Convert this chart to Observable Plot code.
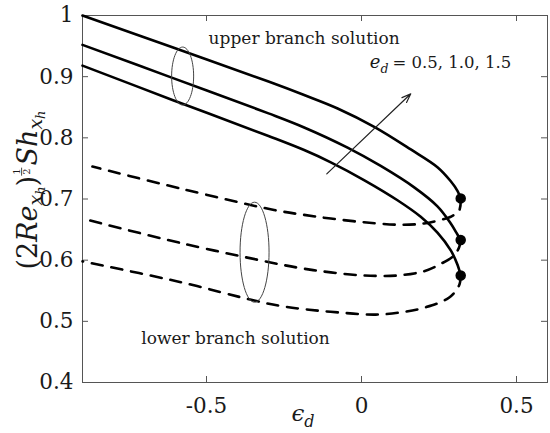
<!DOCTYPE html>
<html>
<head>
<meta charset="utf-8">
<script src="https://cdn.jsdelivr.net/npm/d3@7"></script>
<script src="https://cdn.jsdelivr.net/npm/@observablehq/plot@0.6"></script>
<style>
  body { margin: 0; background: #fff; }
  #chart { width: 550px; height: 433px; }
  #chart svg, #chart svg text, #chart svg tspan { font-family: "DejaVu Serif", serif !important; }
</style>
</head>
<body>
<div id="chart"></div>
<script>
// ---- tick values ----
const xTicks = [-0.5, 0, 0.5];
const yTicks = [0.4, 0.5, 0.6, 0.7, 0.8, 0.9, 1];

// ---- upper branch solutions (solid), e_d = 1.5, 1.0, 0.5 ----
const upperEps15 = [-0.9, -0.61, -0.3, -0.185, -0.077, 0.041, 0.159, 0.245, 0.288, 0.310, 0.320];
const upperSh15  = [1.000, 0.948, 0.892, 0.870, 0.848, 0.818, 0.781, 0.752, 0.729, 0.713, 0.701];
const upperEps10 = [-0.9, -0.61, -0.3, -0.185, -0.045, 0.062, 0.170, 0.245, 0.288, 0.306, 0.320];
const upperSh10  = [0.952, 0.898, 0.840, 0.817, 0.784, 0.754, 0.719, 0.688, 0.660, 0.645, 0.633];
const upperEps05 = [-0.9, -0.61, -0.3, -0.185, -0.099, 0.008, 0.116, 0.191, 0.245, 0.288, 0.310, 0.320];
const upperSh05  = [0.918, 0.862, 0.803, 0.780, 0.760, 0.731, 0.698, 0.671, 0.645, 0.616, 0.592, 0.575];

// ---- lower branch solutions (dashed), from turning point leftwards ----
const lowerEps15 = [0.320, 0.315, 0.288, 0.256, 0.202, 0.116, 0.008, -0.099, -0.185, -0.282, -0.583, -0.868];
const lowerSh15  = [0.701, 0.681, 0.671, 0.666, 0.660, 0.658, 0.662, 0.668, 0.674, 0.682, 0.717, 0.753];
const lowerEps10 = [0.320, 0.315, 0.299, 0.256, 0.202, 0.116, 0.008, -0.099, -0.185, -0.271, -0.583, -0.9];
const lowerSh10  = [0.633, 0.621, 0.608, 0.594, 0.582, 0.575, 0.575, 0.580, 0.586, 0.594, 0.628, 0.668];
const lowerEps05 = [0.320, 0.315, 0.283, 0.207, 0.132, 0.046, -0.061, -0.169, -0.260, -0.346, -0.583, -0.9];
const lowerSh05  = [0.575, 0.559, 0.539, 0.523, 0.515, 0.511, 0.514, 0.519, 0.525, 0.534, 0.564, 0.598];

// ---- critical (turning) points ----
const turnEps = [0.320, 0.320, 0.320];
const turnSh  = [0.701, 0.633, 0.575];

// ---- annotations ----
const noteText = ["upper branch solution", "lower branch solution"];
const noteEps  = [-0.185, -0.4065];
const noteSh   = [0.963, 0.4726];
const edLabel  = "e_d = 0.5, 1.0, 1.5";
const edEps    = [0.0268];
const edSh     = [0.923];
const ellipseEps = [-0.577, -0.345];
const ellipseSh  = [0.901, 0.613];
const arrowEps = [-0.112, 0.159];
const arrowSh  = [0.741, 0.872];

function series(xs, ys, ed) { return xs.map((x, i) => ({eps: x, sh: ys[i], ed})); }
const upperData = [
  ...series(upperEps05, upperSh05, "0.5"),
  ...series(upperEps10, upperSh10, "1.0"),
  ...series(upperEps15, upperSh15, "1.5")
];
const lowerData = [
  ...series(lowerEps05, lowerSh05, "0.5"),
  ...series(lowerEps10, lowerSh10, "1.0"),
  ...series(lowerEps15, lowerSh15, "1.5")
];
const turnData = series(turnEps, turnSh, "");

function ellipseSymbol(rx, ry) {
  const k = 0.5523;
  return {
    draw(c) {
      c.moveTo(rx, 0);
      c.bezierCurveTo(rx, k * ry, k * rx, ry, 0, ry);
      c.bezierCurveTo(-k * rx, ry, -rx, k * ry, -rx, 0);
      c.bezierCurveTo(-rx, -k * ry, -k * rx, -ry, 0, -ry);
      c.bezierCurveTo(k * rx, -ry, rx, -k * ry, rx, 0);
      c.closePath();
    }
  };
}

const W = 550, H = 433, ML = 82, MR = 3, MT = 15, MB = 51;
const innerW = W - ML - MR, innerH = H - MT - MB;
const tickLen = 6;
const axisColor = "#555";

const plot = Plot.plot({
  width: W,
  height: H,
  marginLeft: ML,
  marginRight: MR,
  marginTop: MT,
  marginBottom: MB,
  style: {fontFamily: "DejaVu Serif, serif", fontSize: "21.5px", color: "#1a1a1a", background: "#fff"},
  x: {domain: [-0.9, 0.6], ticks: xTicks, tickSize: 0, tickPadding: 15.5, tickFormat: d => String(d), label: null},
  y: {domain: [0.4, 1], ticks: yTicks, tickSize: 0, tickPadding: 9, tickFormat: d => String(d), label: null},
  marks: [
    Plot.frame({stroke: axisColor, strokeWidth: 1}),
    Plot.tickX(xTicks, {x: d => d, insetTop: innerH - tickLen, stroke: axisColor}),
    Plot.tickX(xTicks, {x: d => d, insetBottom: innerH - tickLen, stroke: axisColor}),
    Plot.tickY(yTicks, {y: d => d, insetRight: innerW - tickLen, stroke: axisColor}),
    Plot.tickY(yTicks, {y: d => d, insetLeft: innerW - tickLen, stroke: axisColor}),
    Plot.line(upperData, {x: "eps", y: "sh", z: "ed", curve: "catmull-rom", stroke: "#000", strokeWidth: 2.6}),
    Plot.line(lowerData, {x: "eps", y: "sh", z: "ed", curve: "catmull-rom", stroke: "#000", strokeWidth: 2.6, strokeDasharray: "11,9"}),
    Plot.dot(turnData, {x: "eps", y: "sh", r: 4.5, fill: "#000", stroke: "#000"}),
    Plot.dot([0], {x: () => ellipseEps[0], y: () => ellipseSh[0], symbol: ellipseSymbol(11, 29), fill: "none", stroke: "#444", strokeWidth: 1}),
    Plot.dot([0], {x: () => ellipseEps[1], y: () => ellipseSh[1], symbol: ellipseSymbol(14.5, 50), fill: "none", stroke: "#444", strokeWidth: 1}),
    Plot.arrow([0], {x1: () => arrowEps[0], y1: () => arrowSh[0], x2: () => arrowEps[1], y2: () => arrowSh[1], stroke: "#222", strokeWidth: 1.2, headLength: 12, headAngle: 40}),
    Plot.text(noteText, {x: (d, i) => noteEps[i], y: (d, i) => noteSh[i], text: d => d, fontSize: 17, fill: "#1a1a1a"}),
    Plot.text([edLabel], {x: (d, i) => edEps[i], y: (d, i) => edSh[i], text: d => d, textAnchor: "start", fontSize: 16.5, fill: "#1a1a1a"})
  ]
});

document.getElementById("chart").appendChild(plot);

const svg = d3.select(plot);

// e_d label with italic + subscript
svg.selectAll("text").filter(function () { return this.textContent === edLabel; }).each(function () {
  const t = d3.select(this);
  t.text(null);
  t.append("tspan").attr("font-style", "italic").attr("font-size", 18).text("e");
  t.append("tspan").attr("font-style", "italic").attr("font-size", 12.5).attr("dy", 5).text("d");
  t.append("tspan").attr("dy", -5).attr("dx", 4).text("= 0.5, 1.0, 1.5");
});

// y-axis label: (2Re_{x_h})^{1/2} Sh_{x_h}
const ylg = svg.append("g").attr("transform", "translate(37,190) rotate(-90)");
const yl = ylg.append("text")
  .attr("text-anchor", "middle")
  .attr("font-size", 27)
  .attr("fill", "#1a1a1a");
yl.append("tspan").text("(2");
yl.append("tspan").attr("font-style", "italic").text("Re");
yl.append("tspan").attr("font-style", "italic").attr("font-size", 19).attr("dy", 5).text("x");
yl.append("tspan").attr("font-style", "italic").attr("font-size", 13).attr("dy", 3).text("h");
yl.append("tspan").attr("dy", -8).text(")");
yl.append("tspan").attr("font-size", 10).attr("dx", 1).attr("dy", -17).text("1");
yl.append("tspan").attr("font-size", 10).attr("dx", -6.4).attr("dy", 10).text("2");
yl.append("tspan").attr("font-style", "italic").attr("dx", 3).attr("dy", 7).text("Sh");
yl.append("tspan").attr("font-style", "italic").attr("font-size", 19).attr("dy", 5).text("x");
yl.append("tspan").attr("font-style", "italic").attr("font-size", 13).attr("dy", 3).text("h");
try {
  const n = yl.node();
  const a = n.getStartPositionOfChar(7), b = n.getEndPositionOfChar(7);
  const c = n.getStartPositionOfChar(8), e = n.getEndPositionOfChar(8);
  const x0 = Math.min(a.x, c.x) - 0.8, x1 = Math.max(b.x, e.x) + 0.8;
  ylg.append("line").attr("x1", x0).attr("x2", x1)
    .attr("y1", a.y + 1.6).attr("y2", a.y + 1.6)
    .attr("stroke", "#1a1a1a").attr("stroke-width", 0.8);
} catch (err) {}

// x-axis label: epsilon_d
const xl = svg.append("text")
  .attr("x", 303).attr("y", 421)
  .attr("font-size", 23)
  .attr("fill", "#1a1a1a");
xl.append("tspan").attr("font-style", "italic").text("ϵ");
xl.append("tspan").attr("font-style", "italic").attr("font-size", 16).attr("dy", 6).text("d");
</script>
</body>
</html>
